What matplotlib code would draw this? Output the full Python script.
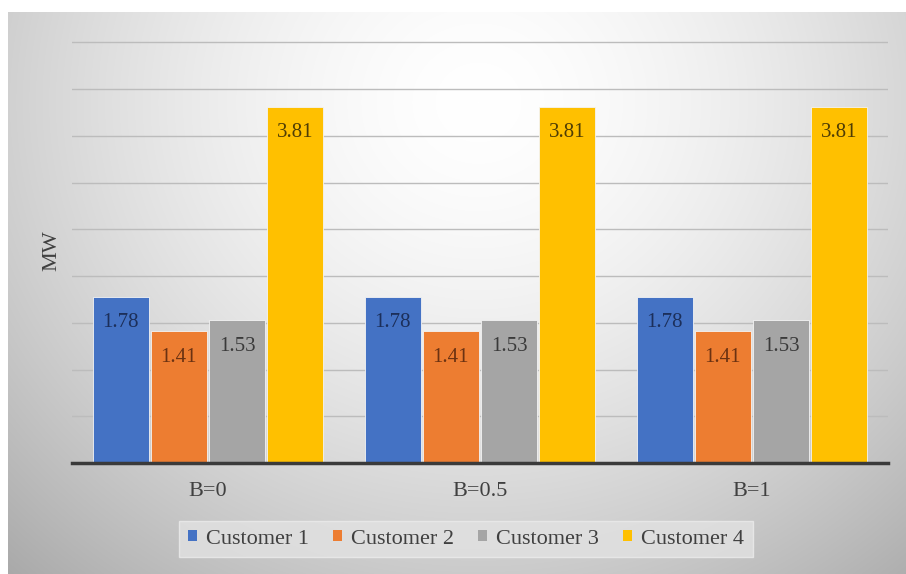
import numpy as np
import matplotlib
matplotlib.use("Agg")
import matplotlib.pyplot as plt
from matplotlib.patches import Patch

categories = ["B=0", "B=0.5", "B=1"]
series_names = ["Customer 1", "Customer 2", "Customer 3", "Customer 4"]
customer1 = [1.78, 1.78, 1.78]
customer2 = [1.41, 1.41, 1.41]
customer3 = [1.53, 1.53, 1.53]
customer4 = [3.81, 3.81, 3.81]
values = [customer1, customer2, customer3, customer4]

colors = ["#4472C4", "#ED7D31", "#A5A5A5", "#FFC000"]
label_colors = ["#1c2f5a", "#6b3212", "#3a3a3a", "#4f3d05"]

W, H = 906, 574
fig = plt.figure(figsize=(W / 100, H / 100), dpi=100)
fig.patch.set_facecolor("white")

# background panel with radial gradient
px0, py0 = 8, 12
bg = fig.add_axes([px0 / W, 0, (W - px0) / W, (H - py0) / H])
bw, bh = W - px0, H - py0
yy, xx = np.mgrid[0:bh, 0:bw]
cx, cy = 470, 90
d = np.sqrt(((xx - cx) / 560.0) ** 2 + ((yy - cy) / 520.0) ** 2)
val = 1.0 - 0.24 * np.clip(d, 0, 1.3) ** 1.6
img = np.dstack([val, val, val])
bg.imshow(np.clip(img, 0, 1), aspect="auto", extent=[0, bw, bh, 0])
bg.set_axis_off()
bg.set_zorder(0)

# main axes
ppu = 93.5
base_y = 463
ymax = 4.75
left_px, right_px = 72, 888
ax_h = ymax * ppu
ax = fig.add_axes([left_px / W, (H - base_y) / H, (right_px - left_px) / W, ax_h / H])
ax.set_zorder(1)
ax.patch.set_alpha(0)

x = np.arange(len(categories))
step = 0.214
width = 0.207
for i, (vals, c, lc) in enumerate(zip(values, colors, label_colors)):
    pos = x + (i - 1.5) * step
    ax.bar(pos, vals, width=width, color=c, edgecolor="#f4f4f4", linewidth=0.6, zorder=3)
    for p, v in zip(pos, vals):
        ax.text(p, v - 0.28, f"{v:.2f}", ha="center", va="center",
                fontsize=15, family="Liberation Serif", color=lc, zorder=4)

ax.set_xlim(-0.5, 2.5)
ax.set_ylim(0, ymax)
ax.set_yticks(np.arange(0.5, 4.51, 0.5))
ax.yaxis.grid(True, color="#bcbcbc", linewidth=1.0, zorder=0)
ax.tick_params(axis="y", length=0, labelleft=False)
ax.set_xticks(x)
ax.set_xticklabels(categories, fontsize=16, family="Liberation Serif", color="#404040")
ax.tick_params(axis="x", length=0, pad=14)
for s in ["top", "right", "left"]:
    ax.spines[s].set_visible(False)
ax.spines["bottom"].set_color("#3a3a3a")
ax.spines["bottom"].set_linewidth(2.5)
ax.spines["bottom"].set_zorder(5)

fig.text(52 / W, 1 - 251 / H, "MW", rotation=90, ha="center", va="center",
         fontsize=16, family="Liberation Serif", color="#404040")

handles = [Patch(facecolor=c, edgecolor="none") for c in colors]
leg = fig.legend(handles, series_names, loc="center", bbox_to_anchor=(466 / W, 1 - 539 / H),
                 ncol=4, frameon=True, prop={"family": "Liberation Serif", "size": 16},
                 handlelength=0.4, handleheight=0.4, handletextpad=0.4, columnspacing=1.1,
                 borderpad=0.4, fancybox=False)
leg.get_frame().set_facecolor("#e2e2e2")
leg.get_frame().set_edgecolor("#ececec")
leg.get_frame().set_alpha(0.8)
for t in leg.get_texts():
    t.set_color("#404040")

fig.savefig("out.png", dpi=100)
